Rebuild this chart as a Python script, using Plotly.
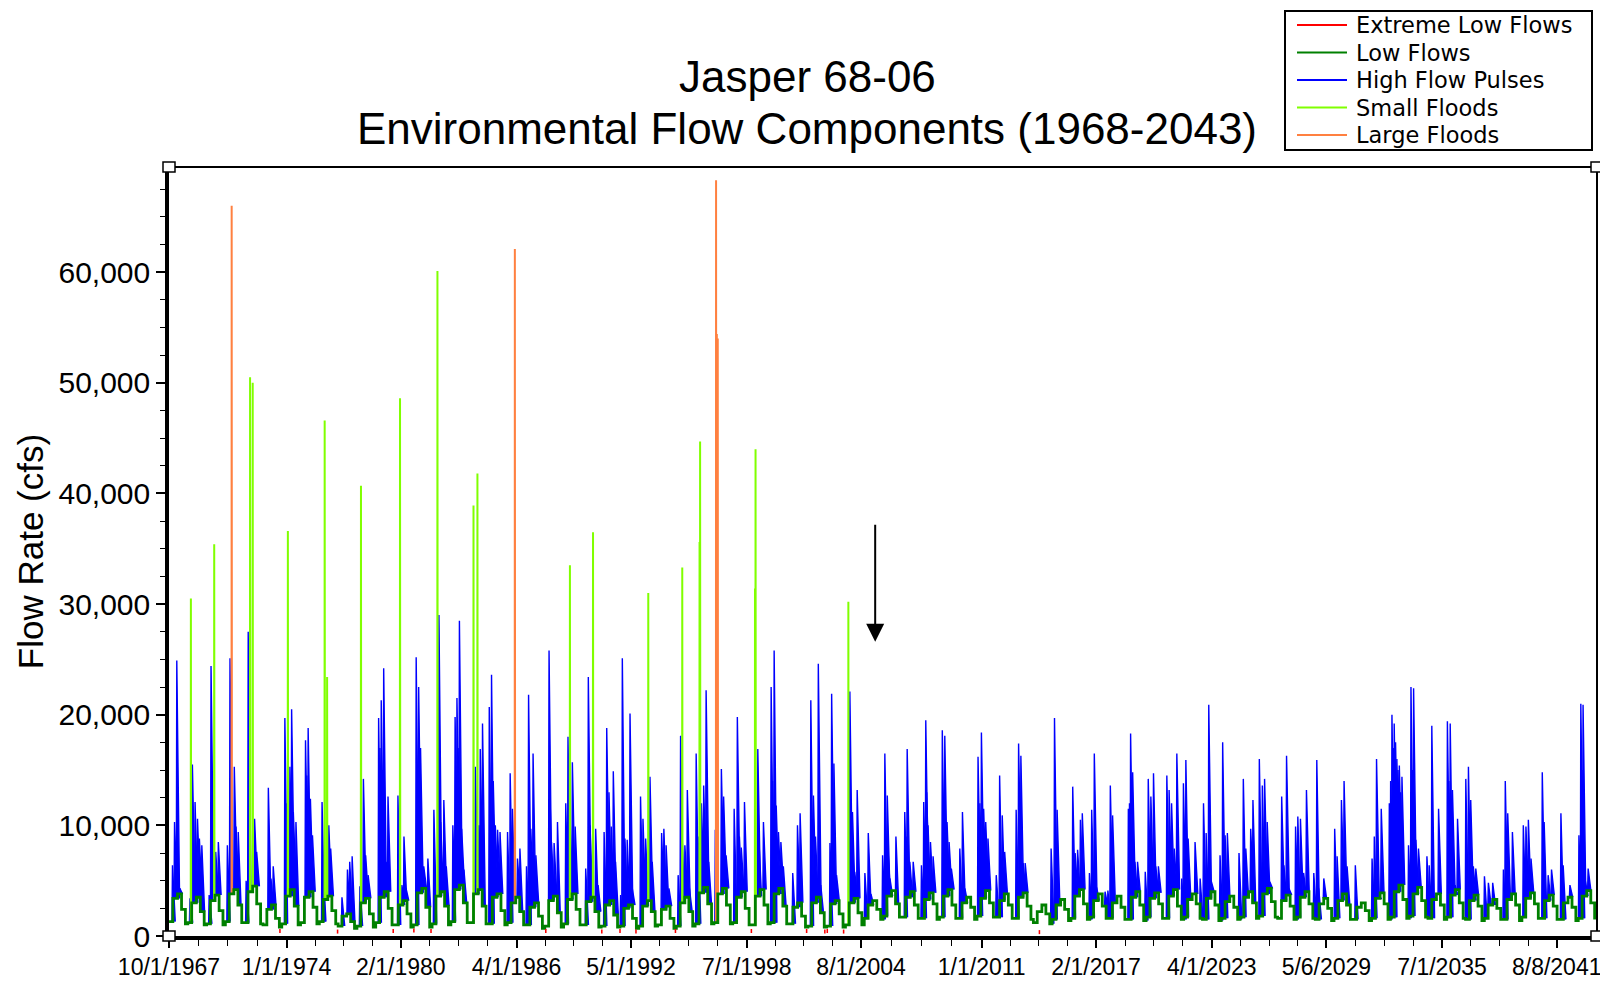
import numpy as np
import pandas as pd
import plotly.graph_objects as go

# ---------------- DATA ----------------
# Low-flow baseline per water year (thousand cfs) at: Oct 1, Dec 15, Mar 15, Jun 1, Aug 15
water_years = list(range(1968, 2044))
low_oct = [1.3, 1.2, 1.1, 1.3, 1.2, 1.0, 1.1, 1.2, 1.3, 0.9,
           0.9, 1.2, 1.0, 1.0, 1.1, 1.3, 1.2, 1.1, 1.2, 1.0,
           0.9, 1.1, 1.0, 0.9, 0.9, 0.9, 1.0, 0.9, 1.1, 1.2,
           1.2, 1.0, 1.2, 1.1, 0.9, 0.9, 1.0, 1.6, 1.8, 1.7,
           1.6, 1.7, 1.6, 1.8, 1.7, 1.6, 1.2, 1.5, 1.6, 1.7,
           1.6, 1.5, 1.7, 1.6, 1.7, 1.5, 1.6, 1.7, 1.8, 1.6,
           1.7, 1.5, 1.6, 1.5, 1.6, 1.7, 1.8, 1.6, 1.7, 1.5,
           1.6, 1.5, 1.7, 1.6, 1.5, 1.6]
low_dec = [3.4, 3.0, 3.2, 3.8, 4.0, 2.4, 3.6, 3.5, 3.3, 1.8,
           3.0, 3.5, 2.8, 3.9, 3.6, 4.2, 3.8, 3.5, 3.0, 2.6,
           3.2, 3.3, 3.1, 2.8, 2.5, 2.7, 2.4, 3.0, 3.9, 3.8,
           3.5, 3.6, 3.8, 2.6, 3.0, 2.9, 3.0, 2.8, 3.6, 3.5,
           3.3, 3.6, 3.0, 3.4, 3.2, 3.5, 2.2, 2.8, 3.6, 3.2,
           3.0, 3.5, 3.4, 3.6, 3.3, 3.4, 3.1, 3.5, 3.8, 3.2,
           3.5, 2.9, 3.2, 2.6, 3.4, 4.0, 3.8, 3.3, 3.7, 3.2,
           2.8, 3.3, 3.4, 3.2, 3.0, 3.6]
low_mar = [3.8, 3.5, 3.7, 4.2, 4.5, 2.8, 4.2, 4.0, 3.6, 2.0,
           3.4, 4.0, 3.2, 4.3, 4.0, 4.6, 4.2, 3.8, 3.5, 3.0,
           3.6, 3.8, 3.5, 3.2, 2.8, 3.2, 2.7, 3.5, 4.4, 4.3,
           4.0, 4.2, 4.3, 3.0, 3.5, 3.2, 3.4, 3.2, 4.1, 4.0,
           3.9, 4.2, 3.5, 4.1, 3.8, 3.9, 2.8, 3.3, 4.2, 3.8,
           3.6, 4.0, 3.9, 4.2, 3.8, 4.0, 3.6, 4.0, 4.3, 3.7,
           4.0, 3.4, 3.8, 3.0, 3.9, 4.6, 4.4, 3.8, 4.2, 3.7,
           3.3, 3.8, 3.9, 3.7, 3.5, 4.1]
low_jun = [2.4, 2.2, 2.3, 2.8, 2.9, 1.6, 2.7, 2.6, 2.3, 1.3,
           2.0, 2.5, 2.0, 2.6, 2.7, 3.0, 2.7, 2.3, 2.2, 1.8,
           2.1, 2.4, 2.2, 1.9, 1.6, 2.2, 1.6, 2.2, 2.9, 2.8,
           2.5, 2.8, 2.7, 1.8, 2.1, 2.0, 2.1, 2.4, 2.9, 2.8,
           2.9, 2.8, 2.6, 3.0, 2.8, 2.7, 2.0, 2.4, 2.9, 2.7,
           2.6, 2.8, 2.9, 2.7, 2.9, 2.8, 2.6, 3.0, 3.1, 2.7,
           2.9, 2.5, 2.8, 2.3, 2.9, 3.3, 3.2, 2.8, 3.0, 2.7,
           2.5, 2.8, 2.9, 2.7, 2.6, 3.0]
low_aug = [1.1, 1.0, 1.0, 1.2, 1.1, 0.8, 1.0, 1.1, 1.1, 0.7,
           0.8, 1.0, 0.8, 0.8, 1.0, 1.2, 1.1, 1.0, 1.0, 0.7,
           0.8, 1.0, 0.8, 0.8, 0.7, 0.9, 0.7, 0.9, 1.1, 1.1,
           1.0, 1.1, 1.1, 0.8, 0.8, 0.8, 1.0, 1.5, 1.7, 1.6,
           1.5, 1.6, 1.5, 1.7, 1.6, 1.5, 1.1, 1.4, 1.5, 1.6,
           1.5, 1.4, 1.6, 1.5, 1.6, 1.4, 1.5, 1.6, 1.7, 1.5,
           1.6, 1.4, 1.5, 1.4, 1.5, 1.6, 1.7, 1.5, 1.6, 1.4,
           1.5, 1.4, 1.6, 1.5, 1.4, 1.5]

# High flow pulses: time (decimal year) and peak (thousand cfs)
pulse_time = [
    1967.93, 1968.04, 1968.16, 1968.25, 1968.32,
    1968.86, 1968.99, 1969.13, 1969.26, 1969.36, 1969.49,
    1969.88, 1969.98, 1970.23, 1970.37,
    1970.85, 1970.99, 1971.22, 1971.31, 1971.43,
    1971.85, 1971.96, 1972.30, 1972.41,
    1973.03, 1973.17, 1973.29,
    1973.91, 1973.98, 1974.18, 1974.27, 1974.36, 1974.50,
    1975.01, 1975.08, 1975.15, 1975.27, 1975.38,
    1975.89, 1975.95, 1976.25, 1976.35,
    1976.95, 1977.24, 1977.36, 1977.49,
    1977.90, 1978.09, 1978.21, 1978.34,
    1978.90, 1978.97, 1979.04, 1979.10, 1979.17, 1979.30, 1979.40,
    1979.93, 1980.14, 1980.25, 1980.36,
    1980.90, 1980.97, 1981.03, 1981.08, 1981.13, 1981.30, 1981.52,
    1981.84, 1982.11, 1982.20, 1982.37, 1982.50,
    1982.85, 1982.97, 1983.00, 1983.07, 1983.13, 1983.20, 1983.32, 1983.44,
    1984.05, 1984.10, 1984.24, 1984.31, 1984.43,
    1984.79, 1984.85, 1984.91, 1985.00, 1985.11, 1985.23, 1985.36,
    1985.76, 1985.90, 1986.02, 1986.29, 1986.42,
    1986.77, 1986.88, 1987.00, 1987.12, 1987.27,
    1987.97, 1988.03, 1988.10, 1988.24, 1988.42,
    1988.86, 1988.98, 1989.10, 1989.21, 1989.36,
    1989.92, 1990.06, 1990.15, 1990.45, 1990.58,
    1990.90, 1991.04, 1991.16, 1991.28, 1991.39, 1991.51,
    1991.78, 1991.87, 1992.01, 1992.13, 1992.28, 1992.40,
    1992.84, 1992.97, 1993.11, 1993.34, 1993.46,
    1993.96, 1994.08, 1994.20, 1994.35,
    1994.84, 1994.97, 1995.03, 1995.20, 1995.33, 1995.44,
    1995.80, 1995.90, 1996.08, 1996.20, 1996.33, 1996.47,
    1996.82, 1997.14, 1997.20, 1997.26, 1997.39,
    1997.82, 1997.99, 1998.10, 1998.20, 1998.37,
    1999.08, 1999.13, 1999.20, 1999.38,
    1999.79, 1999.87, 1999.95, 2000.06, 2000.18, 2000.31, 2000.44,
    2000.94, 2001.19, 2001.33,
    2001.90, 2002.04, 2002.15, 2002.30, 2002.43,
    2002.92, 2003.01, 2003.06, 2003.13, 2003.27,
    2003.98, 2004.12, 2004.24, 2004.37,
    2004.78, 2004.96, 2005.10,
    2005.72, 2005.84, 2005.97, 2006.00, 2006.11, 2006.43,
    2006.90, 2006.97, 2007.03, 2007.17, 2007.35,
    2007.79, 2007.91, 2008.02, 2008.07, 2008.14, 2008.27, 2008.41,
    2008.90, 2008.96, 2009.03, 2009.15, 2009.26, 2009.38,
    2009.83, 2009.97, 2010.10,
    2010.80, 2010.90, 2010.98, 2011.10, 2011.21, 2011.33,
    2011.77, 2011.95, 2012.09, 2012.22,
    2012.83, 2012.96, 2013.08, 2013.20, 2013.31,
    2014.69, 2014.87, 2015.01,
    2015.84, 2015.97, 2016.10, 2016.25, 2016.35,
    2016.73, 2016.85, 2016.99, 2017.11,
    2017.56, 2017.71, 2017.84, 2017.96,
    2018.80, 2018.86, 2018.92, 2019.03, 2019.15, 2019.29,
    2019.70, 2019.86, 2020.00, 2020.14, 2020.26, 2020.40,
    2020.85, 2020.97, 2021.10, 2021.24, 2021.38,
    2021.64, 2021.73, 2021.86, 2021.98, 2022.35,
    2022.62, 2022.80, 2022.94, 2023.08, 2023.22,
    2023.68, 2023.82, 2023.95, 2024.07,
    2024.69, 2024.92, 2025.05, 2025.31, 2025.43,
    2025.77, 2025.93, 2026.05, 2026.19, 2026.33,
    2026.96, 2027.08, 2027.22, 2027.35,
    2027.70, 2027.82, 2027.96, 2028.13, 2028.28,
    2028.67, 2028.83, 2028.93, 2029.20,
    2029.78, 2029.91, 2030.14, 2030.28, 2030.44,
    2030.88,
    2031.77, 2031.89, 2032.01, 2032.15, 2032.26,
    2032.69, 2032.76, 2032.83, 2032.90, 2032.95, 2033.02, 2033.09, 2033.15, 2033.22, 2033.29, 2033.36,
    2033.71, 2033.84, 2033.91, 2033.98, 2034.10, 2034.24,
    2034.69, 2034.81, 2034.95, 2035.10, 2035.31,
    2035.78, 2035.86, 2035.93, 2036.05, 2036.19, 2036.32,
    2036.76, 2036.90, 2037.02, 2037.16, 2037.29,
    2037.75, 2037.96, 2038.19,
    2038.76, 2038.86, 2038.99, 2039.24,
    2039.82, 2039.96, 2040.09, 2040.23,
    2040.83, 2040.93, 2041.14, 2041.32,
    2041.82, 2041.94, 2042.30,
    2042.78, 2042.88, 2042.94, 2043.00, 2043.12, 2043.27,
]
pulse_peak = [
    6.4, 10.3, 24.9, 4.6, 4.3,
    3.4, 15.5, 12.1, 10.6, 8.8, 8.2,
    3.7, 24.4, 7.6, 8.5,
    8.2, 25.1, 15.3, 9.9, 9.4,
    5.0, 27.5, 10.6, 7.6,
    13.4, 5.2, 6.3,
    19.7, 12.0, 15.3, 20.5, 11.2, 10.3,
    17.7, 14.5, 18.8, 12.4, 9.1,
    12.1, 6.0, 10.0, 7.9,
    3.5, 6.0, 6.7, 7.2,
    4.5, 14.2, 7.3, 5.5,
    19.7, 17.0, 21.3, 15.0, 24.2, 6.7, 12.6,
    12.7, 4.6, 9.0, 4.3,
    25.2, 14.0, 22.5, 12.0, 17.0, 6.3, 7.0,
    11.4, 29.0, 10.3, 12.3, 6.3,
    10.0, 19.8, 15.0, 21.5, 17.0, 28.5, 9.7, 6.0,
    15.3, 8.0, 10.0, 16.9, 19.2,
    20.7, 12.0, 23.6, 14.0, 10.0, 9.6, 9.4,
    9.4, 14.7, 11.5, 7.0, 7.9,
    6.3, 21.8, 9.7, 16.5, 7.3,
    25.8, 12.0, 8.5, 8.4, 10.3,
    12.0, 18.0, 10.0, 15.7, 9.9,
    6.1, 23.4, 10.0, 9.7, 4.6,
    9.4, 18.8, 13.0, 9.9, 14.9, 6.7,
    3.7, 25.1, 8.8, 8.7, 20.1, 4.3,
    12.6, 10.6, 8.8, 14.4, 6.7,
    9.3, 9.7, 8.2, 4.3,
    5.5, 18.1, 10.0, 8.2, 13.2, 4.3,
    16.5, 9.0, 12.0, 13.6, 22.2, 6.7,
    9.6, 15.1, 10.0, 12.6, 7.3,
    11.5, 19.8, 9.0, 8.0, 12.1,
    16.9, 9.0, 4.3, 10.3,
    22.5, 14.0, 25.8, 11.8, 9.4, 8.5, 6.3,
    5.7, 10.0, 11.1,
    21.3, 12.7, 9.0, 24.6, 4.6,
    8.4, 21.9, 12.0, 15.6, 5.5,
    22.1, 11.2, 5.8, 13.2,
    5.7, 9.3, 3.8,
    7.3, 16.5, 12.7, 8.0, 5.2, 9.0,
    11.2, 9.0, 16.9, 6.7, 6.7,
    6.4, 12.1, 19.5, 13.0, 10.0, 8.5, 7.2,
    18.6, 12.0, 18.1, 10.3, 8.5, 6.1,
    7.9, 11.2, 4.3,
    16.2, 12.0, 18.4, 11.5, 10.3, 8.8,
    5.5, 14.5, 10.9, 7.6,
    11.4, 17.4, 16.3, 6.6, 6.6,
    7.9, 19.7, 11.4,
    13.5, 7.5, 7.8, 10.5, 11.1,
    5.7, 11.4, 16.5, 4.4,
    4.0, 4.1, 13.6, 10.9,
    11.5, 12.0, 18.3, 14.8, 6.7, 6.7,
    5.8, 14.2, 12.6, 14.7, 6.3, 6.3,
    14.5, 13.2, 12.0, 7.9, 16.5,
    5.2, 13.8, 15.9, 8.8, 8.5,
    5.2, 12.0, 9.3, 20.9, 4.9,
    7.3, 17.5, 9.1, 9.3,
    7.5, 14.2, 7.9, 9.7, 12.3,
    16.0, 13.6, 14.2, 10.3, 4.9,
    12.6, 6.4, 16.3, 4.3,
    9.9, 10.8, 10.6, 5.7, 13.2,
    5.7, 15.9, 4.3, 5.2,
    9.7, 7.2, 12.3, 14.0, 6.3,
    6.4,
    7.0, 9.0, 16.0, 3.4, 11.5,
    12.0, 14.0, 20.0, 17.0, 19.2, 17.5, 16.0, 15.0, 15.4, 13.0, 14.4,
    8.2, 22.5, 15.0, 22.4, 8.7, 7.9,
    7.2, 6.4, 19.0, 3.5, 11.5,
    19.4, 14.0, 19.2, 13.2, 4.6, 10.6,
    14.2, 15.3, 12.3, 6.3, 6.1,
    5.4, 4.8, 4.8,
    6.0, 14.0, 11.1, 9.4,
    10.0, 9.9, 10.5, 7.0,
    14.8, 10.3, 5.5, 6.0,
    11.1, 6.4, 4.6,
    9.1, 21.0, 15.0, 20.9, 5.0, 6.1,
]

# Small floods
small_flood_time = [1968.91, 1970.15, 1972.06, 1972.20, 1974.07, 1976.03, 1976.16,
                    1977.96, 1980.04, 1982.03, 1983.95, 1984.16, 1989.08, 1990.31,
                    1993.25, 1995.06, 1995.98, 1996.01, 1998.93, 1998.96, 2003.90]
small_flood_peak = [30.5, 35.4, 50.5, 50.0, 36.6, 46.6, 23.4,
                    40.7, 48.6, 60.1, 38.9, 41.8, 33.5, 36.5,
                    31.0, 33.3, 35.6, 44.7, 31.4, 44.0, 30.2]

# Large floods
large_flood_time = [1971.08, 1986.15, 1996.86, 1996.90, 1996.95]
large_flood_peak = [66.0, 62.1, 68.3, 54.4, 54.0]

# Extreme low flows
extreme_low_time = [1973.65, 1976.72, 1979.68, 1980.78, 1981.69, 1987.80, 1990.78,
                    1991.75, 1992.60, 1994.70, 1998.74, 2001.68, 2002.65, 2002.78,
                    2003.65, 2014.07]
extreme_low_flow = [0.45, 0.40, 0.45, 0.50, 0.45, 0.45, 0.40,
                    0.45, 0.40, 0.45, 0.45, 0.45, 0.40, 0.45,
                    0.40, 0.35]

series_names = ["Extreme Low Flows", "Low Flows", "High Flow Pulses",
                "Small Floods", "Large Floods"]

tick_dates = ["1967-10-01", "1974-01-01", "1980-02-01", "1986-04-01", "1992-05-01",
              "1998-07-01", "2004-08-01", "2011-01-01", "2017-02-01", "2023-04-01",
              "2029-05-06", "2035-07-01", "2041-08-08"]
tick_labels = ["10/1/1967", "1/1/1974", "2/1/1980", "4/1/1986", "5/1/1992",
               "7/1/1998", "8/1/2004", "1/1/2011", "2/1/2017", "4/1/2023",
               "5/6/2029", "7/1/2035", "8/8/2041"]

ARROW_DATE = "2005-05-01"
ARROW_TAIL = 37300
ARROW_HEAD = 26600

# ---------------- BUILD ----------------
K = 1000.0
DAY = pd.Timedelta(days=1)
COLORS = {"Extreme Low Flows": "#FF0000", "Low Flows": "#008000",
          "High Flow Pulses": "#0000FF", "Small Floods": "#80FF00",
          "Large Floods": "#FF8040"}

# page body has an 8px margin -> figure is 8px smaller and everything shifted
W, H = 1600, 977
PL, PR, PT, PB = 161, 1589, 159, 928   # plot-area edges in figure pixels


def xp(px):
    return (px - PL) / (PR - PL)


def yp(py):
    return (PB - py) / (PB - PT)


def to_date(y):
    yr = int(np.floor(y))
    return pd.Timestamp(yr, 1, 1) + pd.Timedelta(days=(y - yr) * 365.25)


# low-flow line
low_x, low_y = [], []
for i, wy in enumerate(water_years):
    for d, v in [(pd.Timestamp(wy - 1, 10, 1), low_oct[i]),
                 (pd.Timestamp(wy - 1, 12, 15), low_dec[i]),
                 (pd.Timestamp(wy, 3, 15), low_mar[i]),
                 (pd.Timestamp(wy, 6, 1), low_jun[i]),
                 (pd.Timestamp(wy, 8, 15), low_aug[i])]:
        low_x.append(d)
        low_y.append(v * K)
low_num = np.array([d.value for d in low_x], dtype=float)
low_arr = np.array(low_y)


def base_at(d):
    i = np.searchsorted(low_num, d.value, side="right") - 1
    return float(low_arr[max(i, 0)])


def spikes(times, peaks, rise, top, fall):
    xs, ys = [], []
    for t, p in zip(times, peaks):
        d = to_date(t)
        b = base_at(d)
        xs += [d - rise * DAY, d, d + top * DAY, d + fall * DAY, None]
        ys += [b, p * K, p * K, b, None]
    return xs, ys


px_, py_ = spikes(pulse_time, pulse_peak, 9, 1, 55)
sx_, sy_ = spikes(small_flood_time, small_flood_peak, 2, 1, 6)
lx_, ly_ = spikes(large_flood_time, large_flood_peak, 2, 1, 6)

ex_, ey_ = [], []
for t, v in zip(extreme_low_time, extreme_low_flow):
    d = to_date(t)
    ex_ += [d - 15 * DAY, d + 15 * DAY, None]
    ey_ += [v * K, v * K, None]

FONT = "Liberation Sans, Arial, sans-serif"
LFONT = "DejaVu Sans, Verdana, sans-serif"

fig = go.Figure()
fig.add_trace(go.Scatter(x=px_, y=py_, mode="lines", name="High Flow Pulses",
                         line=dict(color=COLORS["High Flow Pulses"], width=1.4),
                         fill="toself", fillcolor=COLORS["High Flow Pulses"],
                         hoverinfo="skip"))
fig.add_trace(go.Scatter(x=sx_, y=sy_, mode="lines", name="Small Floods",
                         line=dict(color=COLORS["Small Floods"], width=2)))
fig.add_trace(go.Scatter(x=lx_, y=ly_, mode="lines", name="Large Floods",
                         line=dict(color=COLORS["Large Floods"], width=2)))
fig.add_trace(go.Scatter(x=low_x, y=low_y, mode="lines", name="Low Flows",
                         line=dict(color=COLORS["Low Flows"], width=2.8, shape="hv")))
fig.add_trace(go.Scatter(x=ex_, y=ey_, mode="lines", name="Extreme Low Flows",
                         line=dict(color=COLORS["Extreme Low Flows"], width=4)))

# minor x ticks: three between each labelled tick
td = [pd.Timestamp(t) for t in tick_dates]
minor_x = []
for a, b in zip(td[:-1], td[1:]):
    for k in (1, 2, 3):
        minor_x.append(a + (b - a) * k / 4)

fig.update_layout(
    width=W, height=H,
    margin=dict(l=PL, r=W - PR, t=PT, b=H - PB, autoexpand=False),
    plot_bgcolor="white", paper_bgcolor="white",
    font=dict(family=FONT, color="black"),
    showlegend=False,
    xaxis=dict(type="date", range=["1967-10-01", "2043-09-30"],
               tickmode="array", tickvals=tick_dates, ticktext=tick_labels,
               tickangle=0,
               tickfont=dict(family=FONT, size=23, color="black"),
               ticks="outside", ticklen=8, tickwidth=1.5, tickcolor="black",
               minor=dict(tickvals=minor_x, ticks="outside", ticklen=6,
                          tickwidth=1.2, tickcolor="black", showgrid=False),
               showgrid=False, zeroline=False,
               showline=True, linewidth=3.5, linecolor="black"),
    yaxis=dict(range=[0, 69500], tickmode="linear", tick0=0, dtick=10000,
               tickformat=",d",
               tickfont=dict(family=FONT, size=30, color="black"),
               ticks="outside", ticklen=9, tickwidth=1.5, tickcolor="black",
               minor=dict(dtick=2500, ticks="outside", ticklen=5,
                          tickwidth=1.2, tickcolor="black", showgrid=False),
               showgrid=False, zeroline=False,
               showline=True, linewidth=3.5, linecolor="black",
               title=dict(text="Flow Rate (cfs)", standoff=5,
                          font=dict(family=FONT, size=35, color="black"))),
)

# frame top & right
fig.add_shape(type="line", xref="paper", yref="paper", x0=0, x1=1, y0=1, y1=1,
              line=dict(color="black", width=2))
fig.add_shape(type="line", xref="paper", yref="paper", x0=1, x1=1, y0=0, y1=1,
              line=dict(color="black", width=2))
for cx, cy in [(0, 0), (0, 1), (1, 0), (1, 1)]:
    fig.add_shape(type="rect", xref="paper", yref="paper",
                  xsizemode="pixel", ysizemode="pixel", xanchor=cx, yanchor=cy,
                  x0=-6, x1=6, y0=-5, y1=5,
                  fillcolor="white", line=dict(color="black", width=1.5))

# legend box (drawn to match the reference's boxed legend)
fig.add_shape(type="rect", xref="paper", yref="paper",
              x0=xp(1277), x1=xp(1584), y0=yp(3), y1=yp(142),
              fillcolor="white", line=dict(color="black", width=2), layer="above")
row_y = [17, 44.5, 72, 99.5, 127]
for name, ry in zip(series_names, row_y):
    fig.add_shape(type="line", xref="paper", yref="paper",
                  x0=xp(1289), x1=xp(1339), y0=yp(ry), y1=yp(ry),
                  line=dict(color=COLORS[name], width=2), layer="above")
    fig.add_annotation(text=name, xref="paper", yref="paper", x=xp(1346), y=yp(ry),
                       xanchor="left", yanchor="middle", showarrow=False,
                       font=dict(family=LFONT, size=22.5, color="black"))

# titles
fig.add_annotation(text="Jasper 68-06", xref="paper", yref="paper",
                   x=xp(799), y=yp(69), showarrow=False,
                   xanchor="center", yanchor="middle",
                   font=dict(family=FONT, size=44, color="black"))
fig.add_annotation(text="Environmental Flow Components (1968-2043)", xref="paper",
                   yref="paper", x=xp(799), y=yp(120),
                   showarrow=False, xanchor="center", yanchor="middle",
                   font=dict(family=FONT, size=44, color="black"))

# arrow
fig.add_annotation(x=ARROW_DATE, y=ARROW_HEAD, ax=ARROW_DATE, ay=ARROW_TAIL,
                   xref="x", yref="y", axref="x", ayref="y", text="",
                   showarrow=True, arrowhead=2, arrowsize=1.8, arrowwidth=2,
                   arrowcolor="black")

fig.write_html("out.html")
